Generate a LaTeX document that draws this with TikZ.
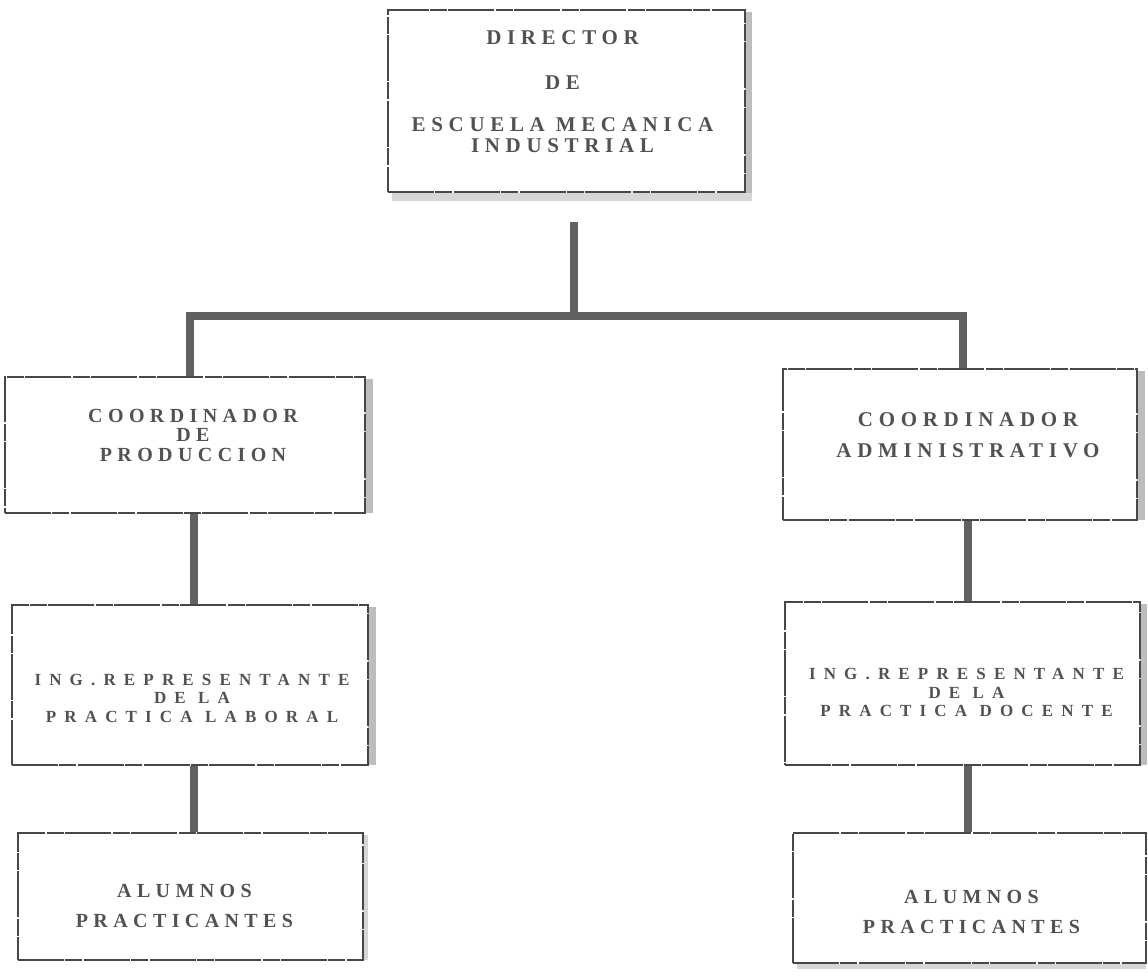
\documentclass[tikz,border=0pt]{standalone}
\usepackage{fontspec}
\newfontfamily\dotfont[LetterSpace=27]{Liberation Serif Bold}
\newfontfamily\dotfontwide[LetterSpace=48]{Liberation Serif Bold}
\begin{document}
\begin{tikzpicture}[x=1pt,y=-1pt,
  box/.style={draw=black!72, line width=1.1pt,
    dash pattern=on 46pt off 1.2pt on 17pt off 1.6pt, fill=white,
    rectangle, inner sep=0pt},
  boxtext/.style={inner sep=0pt, align=center, text=black!68},
  link/.style={draw=black!62, line width=7.5pt},
  shade/.style={fill=black!26, draw=none}]
\useasboundingbox (0,0) rectangle (1148,978);

% stippled shadow strips beside the boxes
\fill[shade] (745,12) rectangle (752,196);
\fill[shade, fill=black!16] (392,193) rectangle (752,201);
\fill[shade] (365,379) rectangle (373,513);
\fill[shade] (1137,371) rectangle (1145,520);
\fill[shade] (368,607) rectangle (376,765);
\fill[shade] (1140,604) rectangle (1147,765);
\fill[shade, fill=black!16] (363,835) rectangle (368,960);
\fill[shade, fill=black!16] (797,964) rectangle (1146,969);

% boxes
\node[box, minimum width=357pt, minimum height=182pt] (dir) at (566.5,101) {};
\node[box, minimum width=360pt, minimum height=136pt] (lc) at (185,445) {};
\node[box, minimum width=354pt, minimum height=151pt] (rc) at (960,444.5) {};
\node[box, minimum width=356pt, minimum height=160pt] (li) at (190,685) {};
\node[box, minimum width=355pt, minimum height=163pt] (ri) at (962.5,683.5) {};
\node[box, minimum width=345pt, minimum height=127pt] (la) at (190.5,896.5) {};
\node[box, minimum width=353pt, minimum height=130pt] (ra) at (969.5,898) {};

% box texts
\node[boxtext, font=\dotfont\fontsize{21}{21}\selectfont] (dir-t)
  at ([xshift=-4pt,yshift=9pt]dir.center)
  {DIRECTOR\\[24pt]DE\\[21pt]ESCUELA MECANICA\\INDUSTRIAL};
\node[boxtext, font=\dotfont\fontsize{20}{19.5}\selectfont] (lc-t)
  at ([xshift=8pt,yshift=10pt]lc.center)
  {COORDINADOR\\DE\\PRODUCCION};
\node[boxtext, font=\dotfont\fontsize{21}{21}\selectfont] (rc-t)
  at ([xshift=8pt,yshift=9pt]rc.center)
  {COORDINADOR\\[10pt]ADMINISTRATIVO};
\node[boxtext, font=\dotfontwide\fontsize{17}{18.5}\selectfont] (li-t)
  at ([xshift=2pt,yshift=-13pt]li.center)
  {ING.REPRESENTANTE\\DE LA\\PRACTICA LABORAL};
\node[boxtext, font=\dotfontwide\fontsize{17}{18.5}\selectfont] (ri-t)
  at ([xshift=4pt,yshift=-9pt]ri.center)
  {ING.REPRESENTANTE\\DE LA\\PRACTICA DOCENTE};
\node[boxtext, font=\dotfont\fontsize{20}{21}\selectfont] (la-t)
  at ([xshift=-6pt,yshift=-9pt]la.center)
  {ALUMNOS\\[9pt]PRACTICANTES};
\node[boxtext, font=\dotfont\fontsize{20}{21}\selectfont] (ra-t)
  at ([xshift=2pt,yshift=-14pt]ra.center)
  {ALUMNOS\\[9pt]PRACTICANTES};

% connectors
\coordinate (trunk) at (574,222);
\coordinate (bar) at (574,316);
\coordinate (barl) at (190,316);
\coordinate (barr) at (963,316);
\coordinate (colL) at (194,0);
\coordinate (colR) at (968,0);
\draw[link] (trunk) -- (bar);
\draw[link, line cap=rect] (barl) -- (barr);
\draw[link] (barl) -- (barl |- lc.north);
\draw[link] (barr) -- (barr |- rc.north);
\draw[link] (colL |- lc.south) -- (colL |- li.north);
\draw[link] (colL |- li.south) -- (colL |- la.north);
\draw[link] (colR |- rc.south) -- (colR |- ri.north);
\draw[link] (colR |- ri.south) -- (colR |- ra.north);
\end{tikzpicture}
\end{document}
